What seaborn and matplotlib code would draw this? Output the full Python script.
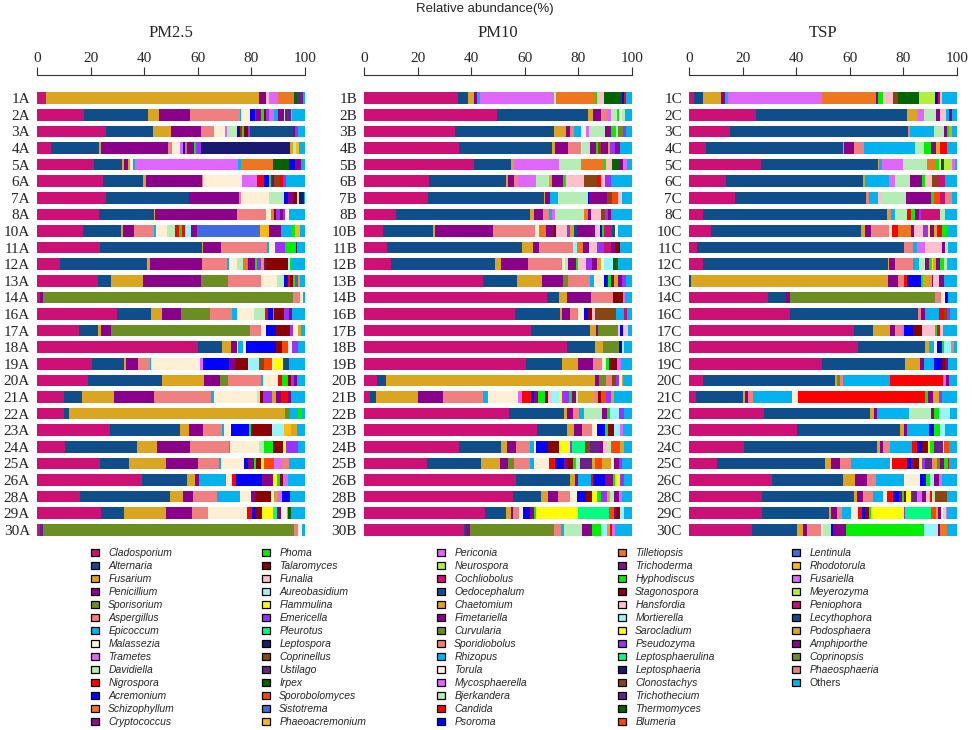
import pandas as pd
import seaborn as sns
import matplotlib.pyplot as plt
from matplotlib.patches import Patch


GENERA = [
    "Cladosporium", "Alternaria", "Fusarium", "Penicillium", "Sporisorium", "Aspergillus",
    "Epicoccum", "Malassezia", "Trametes", "Davidiella", "Nigrospora", "Acremonium",
    "Schizophyllum", "Cryptococcus",
    "Phoma", "Talaromyces", "Funalia", "Aureobasidium", "Flammulina", "Emericella",
    "Pleurotus", "Leptospora", "Coprinellus", "Ustilago", "Irpex", "Sporobolomyces",
    "Sistotrema", "Phaeoacremonium",
    "Periconia", "Neurospora", "Cochliobolus", "Oedocephalum", "Chaetomium", "Fimetariella",
    "Curvularia", "Sporidiobolus", "Rhizopus", "Torula", "Mycosphaerella", "Bjerkandera",
    "Candida", "Psoroma",
    "Tilletiopsis", "Trichoderma", "Hyphodiscus", "Stagonospora", "Hansfordia", "Mortierella",
    "Sarocladium", "Pseudozyma", "Leptosphaerulina", "Leptosphaeria", "Clonostachys",
    "Trichothecium", "Thermomyces", "Blumeria",
    "Lentinula", "Rhodotorula", "Fusariella", "Meyerozyma", "Peniophora", "Lecythophora",
    "Podosphaera", "Amphiporthe", "Coprinopsis", "Phaeosphaeria", "Others",
]

# colour cycle used by the original figure (30 colours, repeated)
PALETTE = [
    "#CD1076", "#104E8B", "#DAA520", "#8B008B", "#6B8E23", "#F08080", "#00B2EE", "#FFEFD5",
    "#E066FF", "#B4EEB4", "#FF0000", "#0000FF", "#EE7621", "#8E0A8E", "#00EE00", "#8B0000",
    "#FFC0CB", "#98F5FF", "#FFFF00", "#9B30FF", "#00FF7F", "#191970", "#8B4513", "#68228B",
    "#006400", "#FF4500", "#4169E1", "#FFB90F", "#E066FF", "#B3EE3A",
]

CODES = {
    "Cla": "Cladosporium", "Alt": "Alternaria", "Fus": "Fusarium", "Pen": "Penicillium",
    "Spo": "Sporisorium", "Asp": "Aspergillus", "Epi": "Epicoccum", "Mal": "Malassezia",
    "Tra": "Trametes", "Dav": "Davidiella", "Nig": "Nigrospora", "Acr": "Acremonium",
    "Sch": "Schizophyllum", "Cry": "Cryptococcus", "Pho": "Phoma", "Tal": "Talaromyces",
    "Fun": "Funalia", "Aur": "Aureobasidium", "Fla": "Flammulina", "Eme": "Emericella",
    "Ple": "Pleurotus", "Lep": "Leptospora", "Cop": "Coprinellus", "Ust": "Ustilago",
    "Irp": "Irpex", "Spb": "Sporobolomyces", "Sis": "Sistotrema", "Pha": "Phaeoacremonium",
    "Per": "Periconia", "Neu": "Neurospora", "Oed": "Oedocephalum", "Oth": "Others",
}

NUMS = ["1", "2", "3", "4", "5", "6", "7", "8", "10", "11", "12", "13", "14", "16",
        "17", "18", "19", "20", "21", "22", "23", "24", "25", "26", "28", "29", "30"]
PM25_SAMPLES = [n + "A" for n in NUMS]
PM10_SAMPLES = [n + "B" for n in NUMS]
TSP_SAMPLES = [n + "C" for n in NUMS]

# relative abundance (%) per sample, segments left to right; remainder = Others
PM25_ROWS = [
    [("Cla", 3.4), ("Fus", 79.5), ("Pen", 2.5), ("Fun", 1.3), ("Tra", 3.4), ("Sch", 5.8), ("Irp", 1.0), ("Ust", 2.5)],
    [("Cla", 17.4), ("Alt", 23.9), ("Fus", 4.1), ("Pen", 11.8), ("Asp", 18.6), ("Epi", 0.5), ("Mal", 3.2), ("Acr", 1.9), ("Nig", 0.5), ("Pen", 1.6), ("Pho", 1.2), ("Tal", 0.6), ("Eme", 1.2), ("Tra", 1.9), ("Epi", 1.6), ("Pen", 2.1), ("Dav", 0.6), ("Ust", 1.9), ("Fus", 0.6)],
    [("Cla", 25.6), ("Alt", 17.5), ("Fus", 7.0), ("Pen", 11.1), ("Asp", 5.0), ("Mal", 4.1), ("Tra", 0.6), ("Dav", 3.9), ("Acr", 0.9), ("Nig", 0.7), ("Pho", 0.7), ("Tal", 1.5), ("Eme", 1.0), ("Oed", 16.1), ("Pen", 0.7), ("Eme", 0.9)],
    [("Cla", 5.2), ("Alt", 18.1), ("Fus", 0.5), ("Pen", 25.2), ("Asp", 1.2), ("Mal", 3.1), ("Tra", 1.2), ("Acr", 0.6), ("Sch", 0.7), ("Pen", 2.7), ("Pho", 0.9), ("Eme", 1.9), ("Lep", 33.2), ("Fus", 1.2), ("Dav", 0.9), ("Pha", 1.0)],
    [("Cla", 21.1), ("Alt", 10.8), ("Fus", 0.6), ("Pen", 1.6), ("Fus", 0.6), ("Mal", 1.0), ("Epi", 0.9), ("Tra", 38.5), ("Epi", 0.9), ("Sch", 11.9), ("Irp", 6.1), ("Acr", 2.2), ("Pen", 2.2)],
    [("Cla", 24.8), ("Alt", 14.9), ("Fus", 0.9), ("Pen", 20.9), ("Asp", 0.6), ("Mal", 14.5), ("Tra", 5.6), ("Nig", 2.5), ("Acr", 1.9), ("Pho", 0.7), ("Pen", 1.2), ("Cop", 2.2), ("Nig", 1.2), ("Eme", 1.0)],
    [("Cla", 25.8), ("Alt", 31.1), ("Pen", 18.3), ("Asp", 0.9), ("Mal", 10.4), ("Dav", 5.7), ("Acr", 1.6), ("Pen", 1.9), ("Tal", 1.2), ("Dav", 0.9), ("Lep", 1.9)],
    [("Cla", 23.0), ("Alt", 20.5), ("Fus", 0.7), ("Pen", 30.3), ("Asp", 10.8), ("Mal", 1.9), ("Sch", 1.2), ("Tal", 0.9), ("Eme", 1.2), ("Pen", 1.2), ("Eme", 1.0), ("Mal", 1.5)],
    [("Cla", 17.1), ("Alt", 14.3), ("Fus", 0.6), ("Pen", 4.3), ("Asp", 7.3), ("Epi", 0.7), ("Mal", 4.3), ("Dav", 3.0), ("Nig", 1.4), ("Pho", 1.2), ("Nig", 0.9), ("Aur", 2.5), ("Pen", 2.1), ("Sis", 23.4), ("Pha", 3.4), ("Pen", 4.7), ("Epi", 3.5), ("Pho", 1.5), ("Pha", 1.9)],
    [("Cla", 23.6), ("Alt", 37.9), ("Fus", 0.6), ("Pen", 6.6), ("Asp", 17.3), ("Epi", 0.7), ("Mal", 2.2), ("Eme", 3.6), ("Pho", 4.1), ("Lep", 0.6)],
    [("Cla", 8.7), ("Alt", 32.5), ("Fus", 1.0), ("Pen", 19.5), ("Asp", 9.3), ("Epi", 0.6), ("Mal", 3.1), ("Dav", 2.0), ("Sch", 2.1), ("Pen", 2.5), ("Pho", 0.9), ("Eme", 1.5), ("Fus", 0.9), ("Pen", 1.0), ("Tal", 8.0), ("Aur", 0.9), ("Pho", 0.7)],
    [("Cla", 22.6), ("Alt", 5.0), ("Fus", 11.8), ("Pen", 21.9), ("Spo", 9.9), ("Asp", 12.3), ("Mal", 6.0), ("Dav", 2.5), ("Acr", 1.5), ("Nig", 1.0), ("Tal", 1.0), ("Pho", 0.9), ("Eme", 0.9), ("Fus", 1.0)],
    [("Cla", 1.2), ("Pen", 1.0), ("Spo", 93.4), ("Asp", 2.5), ("Mal", 1.2)],
    [("Cla", 29.8), ("Alt", 12.8), ("Fus", 4.2), ("Pen", 7.0), ("Spo", 10.8), ("Asp", 8.3), ("Epi", 1.9), ("Mal", 6.2), ("Dav", 4.1), ("Nig", 1.2), ("Acr", 1.6), ("Pho", 0.6), ("Tal", 3.5), ("Eme", 1.9), ("Pen", 1.2)],
    [("Cla", 15.8), ("Alt", 7.0), ("Fus", 1.2), ("Pen", 3.7), ("Spo", 51.8), ("Asp", 4.1), ("Mal", 1.7), ("Acr", 3.9), ("Tal", 5.2), ("Eme", 1.2), ("Mal", 1.9), ("Fus", 0.9)],
    [("Cla", 60.2), ("Alt", 8.7), ("Fus", 3.5), ("Pen", 2.1), ("Mal", 0.5), ("Epi", 2.0), ("Mal", 0.9), ("Acr", 11.3), ("Tal", 2.1), ("Spb", 2.5), ("Mal", 1.2), ("Eme", 2.5)],
    [("Cla", 20.5), ("Alt", 12.0), ("Fus", 0.6), ("Pen", 4.7), ("Asp", 4.3), ("Epi", 0.6), ("Mal", 18.0), ("Tra", 1.2), ("Acr", 9.7), ("Pen", 2.2), ("Tal", 4.8), ("Aur", 4.3), ("Cop", 1.9), ("Spb", 2.9), ("Mal", 0.9), ("Fla", 3.1), ("Alt", 2.5)],
    [("Cla", 18.9), ("Alt", 27.7), ("Fus", 15.8), ("Pen", 6.0), ("Spo", 2.7), ("Asp", 12.5), ("Epi", 0.9), ("Mal", 5.6), ("Nig", 1.2), ("Pho", 2.5), ("Tal", 0.9), ("Eme", 1.2), ("Pen", 1.0)],
    [("Cla", 9.9), ("Alt", 7.0), ("Fus", 11.9), ("Pen", 14.7), ("Asp", 21.4), ("Epi", 1.0), ("Mal", 16.1), ("Dav", 1.2), ("Tal", 1.2), ("Eme", 3.1), ("Fus", 1.6), ("Pen", 2.1), ("Nig", 2.5), ("Pen", 1.2)],
    [("Cla", 10.2), ("Alt", 1.6), ("Fus", 80.7), ("Spo", 1.9), ("Epi", 3.1), ("Pho", 1.2)],
    [("Cla", 27.1), ("Alt", 26.3), ("Fus", 3.4), ("Pen", 5.1), ("Asp", 7.1), ("Epi", 0.6), ("Mal", 2.9), ("Acr", 6.5), ("Pho", 0.9), ("Tal", 7.6), ("Aur", 4.6), ("Pha", 2.5), ("Fus", 2.5)],
    [("Cla", 10.6), ("Alt", 26.7), ("Fus", 7.5), ("Pen", 12.4), ("Asp", 14.3), ("Epi", 0.6), ("Mal", 10.6), ("Dav", 1.9), ("Pho", 3.4), ("Tal", 3.9), ("Fla", 0.9), ("Eme", 4.7)],
    [("Cla", 23.4), ("Alt", 11.1), ("Fus", 13.7), ("Pen", 11.9), ("Asp", 7.7), ("Epi", 0.9), ("Mal", 8.4), ("Acr", 1.5), ("Pen", 2.2), ("Pho", 1.0), ("Tal", 1.7), ("Fla", 1.2), ("Spb", 3.7), ("Tra", 3.1), ("Asp", 2.5)],
    [("Cla", 39.1), ("Alt", 16.8), ("Fus", 3.1), ("Pen", 1.6), ("Epi", 9.9), ("Mal", 2.4), ("Nig", 1.4), ("Acr", 9.6), ("Pen", 4.3), ("Fla", 1.2), ("Pho", 1.2), ("Tal", 1.2), ("Tra", 1.9)],
    [("Cla", 15.9), ("Alt", 33.8), ("Fus", 4.7), ("Pen", 3.7), ("Asp", 8.9), ("Epi", 8.9), ("Mal", 4.1), ("Pen", 1.5), ("Tal", 5.7), ("Mal", 1.2), ("Fus", 1.0), ("Tra", 1.9), ("Acr", 3.2)],
    [("Cla", 23.9), ("Alt", 8.7), ("Fus", 15.7), ("Pen", 9.6), ("Asp", 6.0), ("Mal", 14.3), ("Nig", 2.1), ("Acr", 1.0), ("Tal", 2.5), ("Fla", 4.3), ("Ple", 1.6), ("Pen", 1.5), ("Mal", 1.9), ("Asp", 0.6), ("Irp", 1.0)],
    [("Cla", 1.0), ("Ust", 1.2), ("Spo", 93.7), ("Asp", 1.6), ("Mal", 1.2)],
]

PM10_ROWS = [
    [("Cla", 35.1), ("Alt", 3.6), ("Fus", 2.5), ("Pen", 1.0), ("Epi", 0.9), ("Tra", 27.8), ("Dav", 0.9), ("Sch", 14.5), ("Pho", 0.5), ("Fun", 2.9), ("Irp", 6.6), ("Acr", 0.9), ("Nig", 0.6)],
    [("Cla", 49.7), ("Alt", 33.7), ("Fus", 2.2), ("Pen", 3.0), ("Asp", 2.0), ("Tra", 1.7), ("Dav", 2.2), ("Pho", 0.6), ("Mal", 1.0), ("Dav", 1.2)],
    [("Cla", 34.1), ("Alt", 36.8), ("Fus", 4.6), ("Pen", 1.2), ("Asp", 1.6), ("Epi", 2.5), ("Mal", 1.9), ("Tra", 1.2), ("Dav", 6.0), ("Pen", 2.4), ("Pho", 1.6), ("Dav", 0.9), ("Spo", 1.9), ("Eme", 0.9)],
    [("Cla", 35.3), ("Alt", 34.7), ("Fus", 1.2), ("Pen", 5.0), ("Asp", 4.6), ("Mal", 0.6), ("Dav", 3.1), ("Pen", 2.2), ("Pho", 0.6), ("Cop", 1.2), ("Pen", 2.5), ("Fus", 0.9), ("Eme", 1.9), ("Cry", 1.6)],
    [("Cla", 41.2), ("Alt", 13.5), ("Fus", 1.2), ("Tra", 16.9), ("Dav", 8.1), ("Sch", 8.5), ("Pho", 0.9), ("Fun", 2.1), ("Irp", 2.9), ("Pen", 1.2), ("Tra", 1.6)],
    [("Cla", 24.3), ("Alt", 28.5), ("Fus", 1.0), ("Pen", 2.1), ("Asp", 1.6), ("Tra", 6.6), ("Dav", 4.9), ("Fus", 1.2), ("Pen", 4.1), ("Pho", 0.9), ("Fun", 6.9), ("Cop", 5.0), ("Nig", 1.2), ("Fun", 1.5), ("Eme", 2.5)],
    [("Cla", 23.8), ("Alt", 43.3), ("Fus", 0.6), ("Pen", 1.6), ("Epi", 3.0), ("Dav", 11.2), ("Acr", 0.6), ("Pen", 6.6), ("Cop", 1.9), ("Spb", 2.2), ("Fun", 1.5)],
    [("Cla", 12.0), ("Alt", 49.9), ("Fus", 1.7), ("Pen", 3.2), ("Asp", 2.4), ("Epi", 1.0), ("Tra", 1.0), ("Dav", 11.0), ("Sch", 1.2), ("Pen", 1.2), ("Fun", 3.7), ("Cop", 1.5), ("Eme", 1.2), ("Pen", 1.2)],
    [("Cla", 7.2), ("Alt", 18.7), ("Fus", 0.7), ("Pen", 21.7), ("Asp", 15.4), ("Mal", 1.7), ("Sch", 2.5), ("Pen", 2.9), ("Tal", 1.0), ("Fun", 4.0), ("Eme", 1.2), ("Fus", 1.2), ("Alt", 1.2), ("Pen", 6.9), ("Fun", 1.6), ("Acr", 0.9), ("Pho", 0.9), ("Cla", 2.7), ("Alt", 1.2), ("Mal", 1.2)],
    [("Cla", 8.7), ("Alt", 50.1), ("Fus", 4.4), ("Pen", 2.1), ("Asp", 12.7), ("Aur", 1.6), ("Sch", 2.2), ("Pen", 2.1), ("Fun", 3.1), ("Eme", 2.5), ("Cla", 2.7), ("Pen", 1.6), ("Tal", 1.6)],
    [("Cla", 10.0), ("Alt", 38.7), ("Fus", 2.6), ("Pen", 9.9), ("Asp", 12.6), ("Mal", 1.1), ("Dav", 1.4), ("Pen", 2.7), ("Pho", 1.0), ("Fun", 2.7), ("Eme", 2.2), ("Pen", 2.2), ("Fus", 1.2), ("Mal", 1.2), ("Aur", 3.4), ("Irp", 1.9)],
    [("Cla", 44.3), ("Alt", 12.9), ("Fus", 9.4), ("Pen", 7.7), ("Spo", 1.9), ("Asp", 8.1), ("Epi", 1.6), ("Mal", 3.7), ("Acr", 1.5), ("Pho", 1.0), ("Tal", 1.2), ("Fus", 1.5), ("Pen", 1.6), ("Eme", 1.5)],
    [("Cla", 68.4), ("Alt", 4.4), ("Fus", 3.1), ("Pen", 8.7), ("Asp", 8.4), ("Tal", 3.5), ("Tra", 0.9)],
    [("Cla", 56.2), ("Alt", 16.9), ("Fus", 0.6), ("Pen", 3.1), ("Asp", 2.9), ("Mal", 2.5), ("Acr", 1.2), ("Tal", 1.5), ("Fun", 1.4), ("Cop", 7.7), ("Epi", 3.1), ("Cla", 0.9)],
    [("Cla", 62.2), ("Alt", 22.1), ("Fus", 2.2), ("Pen", 0.9), ("Spo", 7.2), ("Fun", 1.0), ("Acr", 0.9), ("Fun", 1.9)],
    [("Cla", 75.7), ("Alt", 10.5), ("Fus", 3.1), ("Spo", 5.7), ("Acr", 1.2), ("Dav", 1.0)],
    [("Cla", 60.3), ("Alt", 13.5), ("Fus", 6.2), ("Pen", 5.6), ("Asp", 3.1), ("Mal", 1.7), ("Pho", 1.0), ("Tal", 3.1), ("Tra", 1.5)],
    [("Cla", 4.7), ("Alt", 3.4), ("Fus", 78.2), ("Pen", 1.5), ("Spo", 2.5), ("Asp", 2.2), ("Cop", 1.5), ("Eme", 1.2), ("Mal", 0.9), ("Fus", 0.7)],
    [("Cla", 2.2), ("Alt", 2.1), ("Fus", 15.7), ("Pen", 9.6), ("Asp", 14.7), ("Epi", 2.1), ("Mal", 11.2), ("Tra", 1.2), ("Nig", 3.4), ("Acr", 1.2), ("Pen", 1.6), ("Pho", 2.5), ("Tal", 1.2), ("Fun", 1.5), ("Aur", 2.6), ("Fla", 1.1), ("Eme", 2.5), ("Pho", 1.2), ("Pen", 1.5), ("Dav", 0.9), ("Fus", 6.0), ("Asp", 1.2), ("Tal", 1.2), ("Spb", 1.9), ("Eme", 1.9), ("Fus", 1.2)],
    [("Cla", 54.1), ("Alt", 20.6), ("Fus", 1.2), ("Pen", 1.9), ("Asp", 2.5), ("Epi", 1.9), ("Dav", 6.6), ("Pen", 1.9), ("Pho", 1.1), ("Aur", 3.5), ("Eme", 1.6)],
    [("Cla", 64.4), ("Alt", 11.5), ("Fus", 2.5), ("Pen", 2.9), ("Asp", 3.6), ("Mal", 1.9), ("Acr", 3.2), ("Pho", 0.9), ("Tal", 2.5), ("Aur", 2.1), ("Tra", 1.0)],
    [("Cla", 35.6), ("Alt", 15.4), ("Fus", 2.2), ("Pen", 3.7), ("Asp", 5.2), ("Epi", 1.2), ("Mal", 0.9), ("Acr", 4.5), ("Tal", 4.0), ("Fla", 4.0), ("Eme", 0.9), ("Ple", 5.0), ("Cop", 1.9), ("Ust", 3.5), ("Pen", 1.2), ("Fun", 1.9), ("Dav", 1.0), ("Spb", 3.4), ("Fus", 1.6)],
    [("Cla", 23.5), ("Alt", 20.2), ("Fus", 6.9), ("Pen", 3.2), ("Spo", 2.1), ("Asp", 6.2), ("Epi", 1.2), ("Mal", 5.9), ("Nig", 2.0), ("Acr", 3.6), ("Pen", 1.4), ("Tal", 1.9), ("Pho", 0.9), ("Dav", 1.6), ("Ust", 4.6), ("Fus", 1.0), ("Spb", 2.7), ("Fus", 3.4), ("Mal", 1.0), ("Pen", 1.9), ("Eme", 1.2)],
    [("Cla", 56.8), ("Alt", 20.1), ("Fus", 1.9), ("Pen", 0.9), ("Epi", 5.0), ("Nig", 0.7), ("Acr", 4.4), ("Pen", 3.0), ("Pho", 1.0), ("Fla", 1.9), ("Eme", 1.2)],
    [("Cla", 55.6), ("Alt", 10.4), ("Fus", 2.5), ("Pen", 4.0), ("Asp", 4.4), ("Mal", 2.7), ("Acr", 3.1), ("Tal", 2.2), ("Fla", 2.1), ("Pho", 1.5), ("Eme", 2.0), ("Fus", 1.2), ("Dav", 1.5), ("Pen", 1.9), ("Tra", 1.2)],
    [("Cla", 45.3), ("Alt", 7.5), ("Fus", 1.9), ("Pen", 0.9), ("Asp", 2.2), ("Mal", 1.6), ("Acr", 2.7), ("Pen", 1.2), ("Pho", 1.0), ("Fla", 15.6), ("Ple", 11.7), ("Spb", 1.6), ("Pen", 1.0), ("Tal", 1.2), ("Aur", 1.5)],
    [("Cla", 37.2), ("Alt", 0.9), ("Pen", 1.6), ("Spo", 31.2), ("Asp", 2.5), ("Epi", 1.2), ("Dav", 6.6), ("Pen", 4.0), ("Pho", 3.1), ("Aur", 2.5), ("Fus", 0.9), ("Nig", 0.9), ("Tra", 1.2)],
]

TSP_ROWS = [
    [("Cla", 2.0), ("Alt", 3.1), ("Fus", 6.8), ("Pen", 1.5), ("Epi", 1.0), ("Tra", 35.4), ("Sch", 19.9), ("Pen", 0.7), ("Pho", 1.9), ("Fun", 4.0), ("Cop", 1.6), ("Irp", 8.0), ("Neu", 6.0), ("Acr", 0.9), ("Nig", 1.0), ("Fun", 0.6)],
    [("Cla", 25.0), ("Alt", 56.3), ("Fus", 3.7), ("Asp", 0.6), ("Tra", 1.9), ("Dav", 4.6), ("Pen", 1.4), ("Fun", 2.5), ("Epi", 1.2), ("Pen", 1.0)],
    [("Cla", 15.3), ("Alt", 66.6), ("Asp", 0.6), ("Epi", 8.8), ("Dav", 4.0), ("Pen", 0.9), ("Pho", 0.9), ("Fus", 1.0)],
    [("Cla", 6.4), ("Alt", 50.9), ("Fus", 0.6), ("Pen", 3.7), ("Asp", 3.7), ("Epi", 19.0), ("Dav", 3.5), ("Pho", 2.5), ("Pen", 1.9), ("Fus", 1.6), ("Nig", 2.5)],
    [("Cla", 26.9), ("Alt", 43.5), ("Fus", 0.6), ("Epi", 1.2), ("Tra", 7.8), ("Dav", 8.7), ("Sch", 3.5), ("Pho", 1.1), ("Fun", 0.6), ("Irp", 1.2), ("Neu", 3.2), ("Tra", 0.9)],
    [("Cla", 13.7), ("Alt", 51.1), ("Fus", 1.0), ("Epi", 8.7), ("Tra", 2.5), ("Dav", 5.4), ("Pen", 4.5), ("Pho", 1.2), ("Fun", 2.5), ("Cop", 1.9), ("Cla", 3.1)],
    [("Cla", 17.2), ("Alt", 48.9), ("Asp", 0.9), ("Epi", 3.7), ("Fun", 0.9), ("Dav", 9.3), ("Pen", 9.5), ("Pho", 0.9), ("Spb", 2.4), ("Cla", 1.9), ("Asp", 2.5)],
    [("Cla", 5.4), ("Alt", 68.5), ("Fus", 0.6), ("Asp", 0.9), ("Epi", 1.6), ("Dav", 4.4), ("Nig", 1.6), ("Pho", 1.5), ("Pen", 1.2), ("Eme", 0.9), ("Cla", 7.2), ("Dav", 1.6)],
    [("Cla", 8.2), ("Alt", 55.9), ("Fus", 1.6), ("Pen", 2.2), ("Asp", 6.8), ("Mal", 1.1), ("Nig", 2.0), ("Sch", 5.0), ("Pen", 1.2), ("Fun", 3.4), ("Eme", 1.6), ("Fla", 0.9), ("Pen", 1.6), ("Fus", 0.9), ("Nig", 2.1), ("Pho", 1.6)],
    [("Cla", 3.1), ("Alt", 77.3), ("Asp", 3.1), ("Epi", 1.5), ("Tra", 2.9), ("Fun", 6.6), ("Pen", 1.1), ("Dav", 1.0)],
    [("Cla", 5.4), ("Alt", 68.7), ("Fus", 0.4), ("Pen", 2.5), ("Asp", 6.5), ("Epi", 2.2), ("Mal", 0.6), ("Dav", 1.9), ("Pen", 1.2), ("Pho", 1.2), ("Fla", 0.6), ("Fus", 1.0), ("Pen", 1.5), ("Pho", 1.5), ("Dav", 1.0)],
    [("Alt", 0.7), ("Fus", 73.7), ("Pen", 3.7), ("Asp", 2.2), ("Nig", 1.0), ("Acr", 5.2), ("Pho", 0.9), ("Fus", 3.2), ("Pen", 0.6), ("Fun", 1.9), ("Pen", 1.9)],
    [("Cla", 29.6), ("Alt", 6.5), ("Pen", 1.6), ("Spo", 54.2), ("Asp", 2.1), ("Mal", 1.6), ("Acr", 1.2)],
    [("Cla", 37.7), ("Alt", 47.9), ("Asp", 0.9), ("Pen", 1.4), ("Epi", 5.5), ("Nig", 1.6), ("Cop", 1.2), ("Eme", 1.2)],
    [("Cla", 61.6), ("Alt", 7.2), ("Fus", 6.2), ("Pen", 1.9), ("Asp", 2.7), ("Tra", 0.7), ("Acr", 3.4), ("Tal", 3.1), ("Fun", 5.0), ("Pho", 0.9), ("Nig", 1.0), ("Fun", 1.2)],
    [("Cla", 62.9), ("Alt", 25.0), ("Fus", 1.5), ("Epi", 2.1), ("Mal", 1.2), ("Acr", 1.6), ("Pho", 0.9), ("Aur", 2.5), ("Asp", 1.0)],
    [("Cla", 49.6), ("Alt", 31.1), ("Fus", 5.4), ("Pen", 1.5), ("Epi", 3.7), ("Acr", 3.1), ("Tal", 1.2), ("Pen", 1.2)],
    [("Cla", 5.1), ("Alt", 49.2), ("Fus", 0.9), ("Spo", 1.2), ("Asp", 0.9), ("Epi", 17.6), ("Nig", 19.8), ("Tra", 1.2), ("Pen", 1.2)],
    [("Cla", 2.5), ("Alt", 17.8), ("Fus", 0.6), ("Pen", 1.0), ("Asp", 2.1), ("Epi", 14.3), ("Mal", 2.5), ("Nig", 47.3), ("Pho", 1.2), ("Pen", 1.9), ("Fus", 2.1), ("Eme", 1.2)],
    [("Cla", 28.1), ("Alt", 39.5), ("Fus", 1.5), ("Pen", 1.0), ("Epi", 12.1), ("Dav", 8.2), ("Pen", 1.1), ("Pho", 1.9), ("Aur", 4.1)],
    [("Cla", 40.2), ("Alt", 38.4), ("Fus", 1.5), ("Pen", 1.2), ("Epi", 8.1), ("Acr", 1.9), ("Pho", 2.2), ("Aur", 2.2)],
    [("Cla", 20.5), ("Alt", 49.6), ("Fus", 1.2), ("Pen", 1.2), ("Asp", 2.5), ("Epi", 8.3), ("Nig", 1.9), ("Acr", 1.9), ("Tal", 1.9), ("Fla", 1.0), ("Pho", 1.5), ("Ust", 3.1), ("Dav", 0.6), ("Spb", 1.9)],
    [("Cla", 10.6), ("Alt", 40.0), ("Fus", 2.4), ("Pen", 3.5), ("Asp", 4.1), ("Epi", 14.3), ("Mal", 0.9), ("Nig", 5.6), ("Acr", 1.6), ("Pen", 0.9), ("Tal", 2.1), ("Fla", 1.0), ("Eme", 1.0), ("Ust", 2.5), ("Asp", 0.9), ("Fus", 1.2), ("Spo", 1.2), ("Pen", 1.5), ("Pho", 1.2), ("Nig", 0.6)],
    [("Cla", 31.1), ("Alt", 26.5), ("Fus", 4.4), ("Pen", 4.4), ("Asp", 3.5), ("Epi", 10.2), ("Mal", 6.2), ("Acr", 2.2), ("Pho", 1.6), ("Aur", 1.5), ("Pen", 1.5), ("Tra", 1.2)],
    [("Cla", 27.1), ("Alt", 34.5), ("Fus", 1.0), ("Pen", 2.5), ("Asp", 3.7), ("Epi", 3.5), ("Mal", 1.5), ("Nig", 2.5), ("Acr", 1.9), ("Pen", 1.2), ("Pho", 1.0), ("Tal", 0.6), ("Fla", 2.0), ("Ust", 2.1), ("Tra", 2.0), ("Pen", 1.5), ("Fun", 1.2), ("Nig", 0.9), ("Dav", 1.0), ("Cop", 4.4)],
    [("Cla", 27.4), ("Alt", 24.9), ("Fus", 0.6), ("Pen", 2.2), ("Asp", 1.9), ("Epi", 3.5), ("Mal", 2.5), ("Nig", 1.6), ("Acr", 1.2), ("Tal", 1.2), ("Pho", 0.9), ("Fla", 12.2), ("Eme", 0.6), ("Ple", 9.6), ("Spb", 1.9), ("Fus", 0.6), ("Pen", 1.2), ("Mal", 0.6), ("Dav", 1.2), ("Tra", 0.6)],
    [("Cla", 23.4), ("Alt", 16.8), ("Fus", 2.5), ("Pen", 1.2), ("Asp", 5.2), ("Mal", 1.0), ("Dav", 2.9), ("Acr", 0.6), ("Pen", 4.9), ("Pho", 29.0), ("Aur", 5.4), ("Pen", 0.9), ("Sch", 2.5)],
]

TITLES = ["PM2.5", "PM10", "TSP"]

color_map = {g: PALETTE[i % len(PALETTE)] for i, g in enumerate(GENERA)}

sns.set_style("white")
plt.rcParams["font.family"] = ["Liberation Serif", "DejaVu Serif"]

fig = plt.figure(figsize=(9.72, 7.3), dpi=100)

W, H = 972, 730
panel_left = [37, 364, 689]
panel_width = 268
ax_top, ax_bottom = 75, 538

for left, title, samples, rows in zip(panel_left, TITLES,
                                      [PM25_SAMPLES, PM10_SAMPLES, TSP_SAMPLES],
                                      [PM25_ROWS, PM10_ROWS, TSP_ROWS]):
    ax = fig.add_axes([left / W, 1 - ax_bottom / H, panel_width / W, (ax_bottom - ax_top) / H])

    records = []
    for sample, row in zip(samples, rows):
        parts = list(row) + [("Oth", max(100 - sum(v for _, v in row), 0))]
        end = 0
        for k, (code, val) in enumerate(parts):
            end += val
            records.append({"sample": sample, "rank": k, "end": end, "genus": CODES[code]})
    df = pd.DataFrame(records)

    # stacked bars: draw cumulative ends from the outermost segment inwards
    for k in sorted(df["rank"].unique(), reverse=True):
        sub = df[df["rank"] == k]
        sns.barplot(data=sub, x="end", y="sample", hue="genus", order=samples,
                    palette=color_map, dodge=False, width=0.7, saturation=1,
                    linewidth=0, errorbar=None, legend=False, ax=ax)

    ax.set_xlim(0, 100)
    ax.set_ylim(26.5, -1.4)
    ax.set_xlabel("")
    ax.set_ylabel("")
    ax.xaxis.tick_top()
    ax.set_xticks(range(0, 101, 20))
    ax.tick_params(axis="x", direction="out", length=6, width=0.8, pad=1.5,
                   labelsize=11, color="#333333")
    ax.tick_params(axis="y", length=0, pad=5, labelsize=11)
    for s in ["bottom", "left", "right"]:
        ax.spines[s].set_visible(False)
    ax.spines["top"].set_linewidth(0.8)
    ax.spines["top"].set_color("#333333")

    fig.text((left + panel_width / 2) / W, 1 - 33 / H, title, ha="center", va="center",
             fontsize=12)

fig.text(485 / W, 1 - 9 / H, "Relative abundance(%)", ha="center", va="center",
         fontsize=9.5, family="Liberation Sans")

# legend: five columns laid out like the original
columns = [GENERA[0:14], GENERA[14:28], GENERA[28:42], GENERA[42:56], GENERA[56:]]
col_x = [91, 262, 437, 618, 792]
for names, x in zip(columns, col_x):
    handles = [Patch(facecolor=color_map[n], edgecolor="black", linewidth=0.9) for n in names]
    leg = fig.legend(handles, names, loc="upper left", bbox_to_anchor=(x / W, 1 - 548 / H),
                     frameon=False, borderpad=0, borderaxespad=0,
                     handlelength=0.75, handleheight=0.75, handletextpad=0.9,
                     labelspacing=0.29,
                     prop={"family": "Liberation Sans", "style": "italic", "size": 7.5})
    for t in leg.get_texts():
        if t.get_text() == "Others":
            t.set_fontstyle("normal")

fig.savefig("out.png", dpi=100)
